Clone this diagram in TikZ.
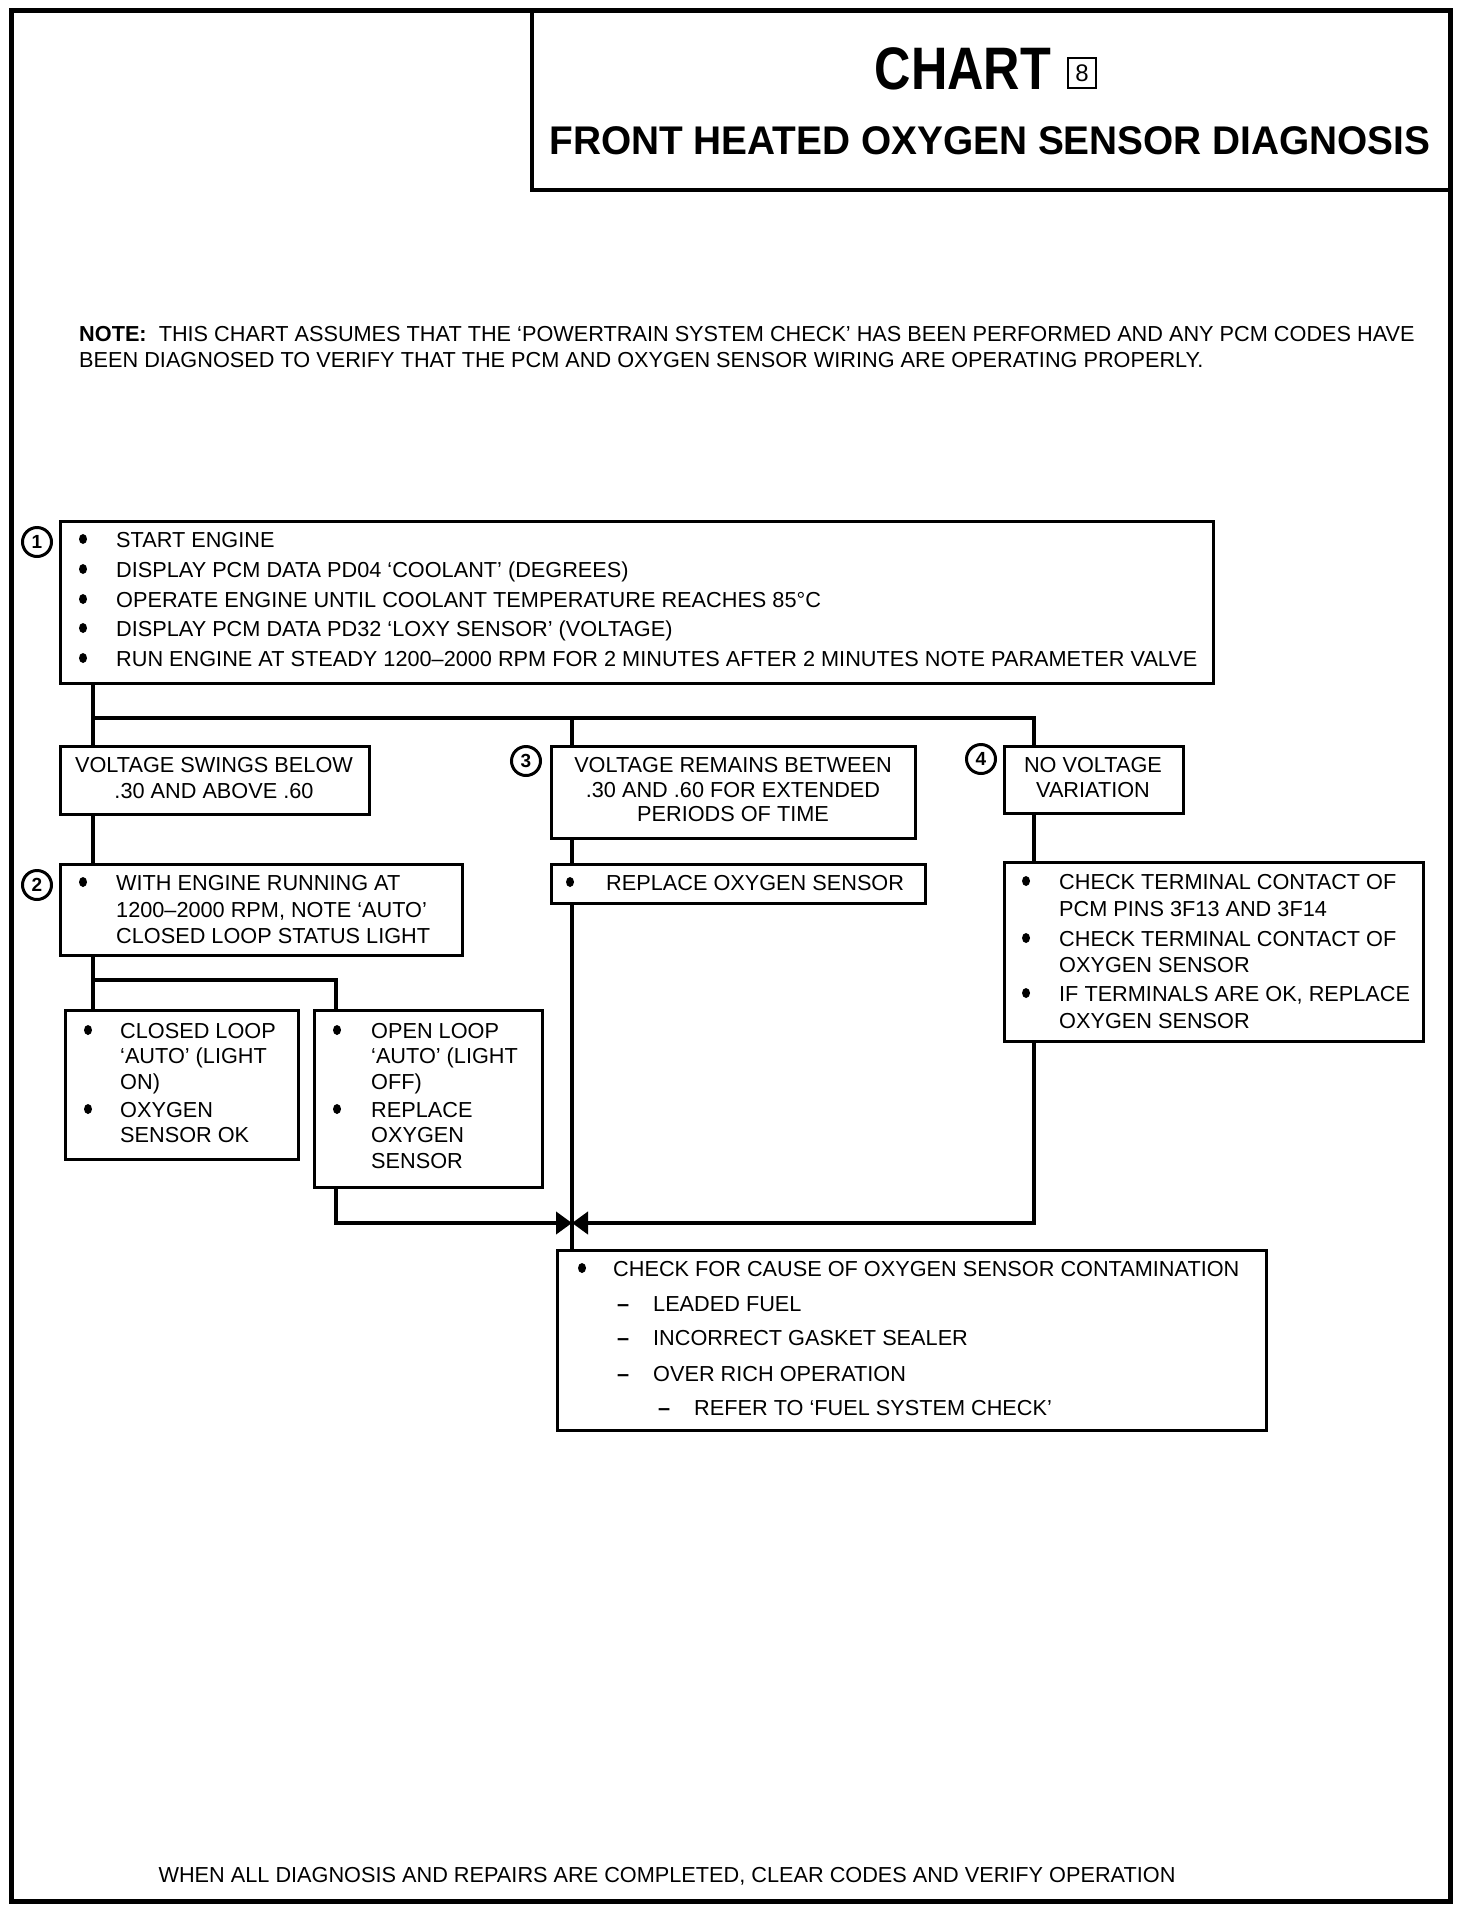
\documentclass[tikz,border=0pt]{standalone}
\usepackage{fontspec}
\setmainfont{Liberation Sans}
\newfontfamily\chartfont{Liberation Sans}[FakeStretch=0.84]
\newfontfamily\titlefont{Liberation Sans}[FakeStretch=0.97]
\usetikzlibrary{arrows.meta}
\begin{document}
\begin{tikzpicture}[x=1pt,y=-1pt,
  box/.style={draw, line width=3pt, anchor=north west, inner sep=0pt, outer sep=0pt},
  conn/.style={line width=4.5pt},
  txt/.style={font=\fontsize{21.7}{24}\selectfont, inner sep=0pt, anchor=base west},
  ctxt/.style={txt, anchor=base},
  dsh/.style={txt, font=\bfseries\fontsize{21.7}{24}\selectfont},
  num/.style={circle, draw, line width=3pt, minimum size=29pt, inner sep=0pt, font=\bfseries\fontsize{19}{19}\selectfont},
  arr/.style={-{Triangle[width=22pt,length=16pt]}},
  bul/.style={fill=black}]
\useasboundingbox (0,0) rectangle (1472,1914);
% frame and title
\draw[line width=5pt] (11,10) rectangle (1450,1901);
\node[box, line width=4pt, minimum width=918pt, minimum height=180pt] (title) at (532,10) {};
\node[inner sep=0pt, anchor=base, font=\chartfont\bfseries\fontsize{60}{60}\selectfont] (chart) at (963,89) {CHART};
\node[draw, line width=1.5pt, inner sep=0pt, minimum width=28pt, minimum height=30pt, font=\fontsize{24}{24}\selectfont] (eight) at (1082,73) {8};
\node[inner sep=0pt, anchor=base, font=\titlefont\bfseries\fontsize{40}{40}\selectfont] (ttl) at (990,154) {FRONT HEATED OXYGEN SENSOR DIAGNOSIS};
% note
\node[txt] (note1) at (79,341) {\textbf{NOTE:}\ \ THIS CHART ASSUMES THAT THE ‘POWERTRAIN SYSTEM CHECK’ HAS BEEN PERFORMED AND ANY PCM CODES HAVE};
\node[txt] (note2) at (79,367) {BEEN DIAGNOSED TO VERIFY THAT THE PCM AND OXYGEN SENSOR WIRING ARE OPERATING PROPERLY.};
% box 1
\node[box, minimum width=1153pt, minimum height=162pt] (b1) at (60,521) {};
\node[num] (c1) at (37,542) {1};
\foreach \yy/\tt in {547/START ENGINE, 577/DISPLAY PCM DATA PD04 ‘COOLANT’ (DEGREES), 607/OPERATE ENGINE UNTIL COOLANT TEMPERATURE REACHES 85°C, 636/DISPLAY PCM DATA PD32 ‘LOXY SENSOR’ (VOLTAGE), 666/RUN ENGINE AT STEADY 1200–2000 RPM FOR 2 MINUTES AFTER 2 MINUTES NOTE PARAMETER VALVE}{
  \fill[bul] (83,\yy-8) ellipse (4pt and 5pt);
  \node[txt] at (116,\yy) {\tt};
}
% voltage swings
\node[box, minimum width=309pt, minimum height=68pt] (vs) at (60,746) {};
\node[ctxt] (vs1) at (214,772) {VOLTAGE SWINGS BELOW};
\node[ctxt] (vs2) at (214,798) {.30 AND ABOVE .60};
% box 3
\node[box, minimum width=364pt, minimum height=92pt] (b3) at (551,746) {};
\node[num] (c3) at (526,761) {3};
\node[ctxt] (b3a) at (733,772) {VOLTAGE REMAINS BETWEEN};
\node[ctxt] (b3b) at (733,797) {.30 AND .60 FOR EXTENDED};
\node[ctxt] (b3c) at (733,821) {PERIODS OF TIME};
% box 4
\node[box, minimum width=179pt, minimum height=67pt] (b4) at (1004,746) {};
\node[num] (c4) at (981,759) {4};
\node[ctxt] (b4a) at (1093,772) {NO VOLTAGE};
\node[ctxt] (b4b) at (1093,797) {VARIATION};
% box 2
\node[box, minimum width=402pt, minimum height=91pt] (b2) at (60,864) {};
\node[num] (c2) at (37,885) {2};
\fill[bul] (83,882) ellipse (4pt and 5pt);
\node[txt] (b2a) at (116,890) {WITH ENGINE RUNNING AT};
\node[txt] (b2b) at (116,917) {1200–2000 RPM, NOTE ‘AUTO’};
\node[txt] (b2c) at (116,943) {CLOSED LOOP STATUS LIGHT};
% replace box
\node[box, minimum width=374pt, minimum height=39pt] (rep) at (551,864) {};
\fill[bul] (570,882) ellipse (4pt and 5pt);
\node[txt] (repa) at (606,890) {REPLACE OXYGEN SENSOR};
% check terminal box
\node[box, minimum width=419pt, minimum height=179pt] (ctc) at (1004,862) {};
\fill[bul] (1026,881) ellipse (4pt and 5pt);
\fill[bul] (1026,938) ellipse (4pt and 5pt);
\fill[bul] (1026,993) ellipse (4pt and 5pt);
\node[txt] (ctca) at (1059,889) {CHECK TERMINAL CONTACT OF};
\node[txt] (ctcb) at (1059,916) {PCM PINS 3F13 AND 3F14};
\node[txt] (ctcc) at (1059,946) {CHECK TERMINAL CONTACT OF};
\node[txt] (ctcd) at (1059,972) {OXYGEN SENSOR};
\node[txt] (ctce) at (1059,1001) {IF TERMINALS ARE OK, REPLACE};
\node[txt] (ctcf) at (1059,1028) {OXYGEN SENSOR};
% closed loop box
\node[box, minimum width=233pt, minimum height=149pt] (closed) at (65,1010) {};
\fill[bul] (88,1030) ellipse (4pt and 5pt);
\fill[bul] (88,1109) ellipse (4pt and 5pt);
\node[txt] (cla) at (120,1038) {CLOSED LOOP};
\node[txt] (clb) at (120,1063) {‘AUTO’ (LIGHT};
\node[txt] (clc) at (120,1089) {ON)};
\node[txt] (cld) at (120,1117) {OXYGEN};
\node[txt] (cle) at (120,1142) {SENSOR OK};
% open loop box
\node[box, minimum width=228pt, minimum height=177pt] (open) at (314,1010) {};
\fill[bul] (337,1030) ellipse (4pt and 5pt);
\fill[bul] (337,1109) ellipse (4pt and 5pt);
\node[txt] (opa) at (371,1038) {OPEN LOOP};
\node[txt] (opb) at (371,1063) {‘AUTO’ (LIGHT};
\node[txt] (opc) at (371,1089) {OFF)};
\node[txt] (opd) at (371,1117) {REPLACE};
\node[txt] (ope) at (371,1142) {OXYGEN};
\node[txt] (opf) at (371,1168) {SENSOR};
% final box
\node[box, minimum width=709pt, minimum height=180pt] (fin) at (557,1250) {};
\fill[bul] (582,1268) ellipse (4pt and 5pt);
\node[txt] (fa) at (613,1276) {CHECK FOR CAUSE OF OXYGEN SENSOR CONTAMINATION};
\node[dsh] (fb1) at (617,1311) {–};
\node[txt] (fb) at (653,1311) {LEADED FUEL};
\node[dsh] (fc1) at (617,1345) {–};
\node[txt] (fc) at (653,1345) {INCORRECT GASKET SEALER};
\node[dsh] (fd1) at (617,1381) {–};
\node[txt] (fd) at (653,1381) {OVER RICH OPERATION};
\node[dsh] (fe1) at (658,1415) {–};
\node[txt] (fe) at (694,1415) {REFER TO ‘FUEL SYSTEM CHECK’};
% footer
\node[ctxt] (foot) at (667,1882) {WHEN ALL DIAGNOSIS AND REPAIRS ARE COMPLETED, CLEAR CODES AND VERIFY OPERATION};
% connectors
\coordinate (busL) at (93,718);
\coordinate (bus2) at (93,980);
\coordinate (jn) at (572,1223);
\draw[conn] ([xshift=33pt]b1.south west) -- ([xshift=33pt]vs.north west);
\draw[conn] (busL) -| ([xshift=30pt]b4.north west);
\draw[conn] ([xshift=21pt]b3.north west) |- (busL);
\draw[conn] ([xshift=33pt]vs.south west) -- ([xshift=33pt]b2.north west);
\draw[conn] ([xshift=21pt]b3.south west) -- ([xshift=21pt]rep.north west);
\draw[conn] ([xshift=21pt]rep.south west) -- ([xshift=15pt]fin.north west);
\draw[conn] ([xshift=30pt]b4.south west) -- ([xshift=30pt]ctc.north west);
\draw[conn] ([xshift=33pt]b2.south west) -- ([xshift=28pt]closed.north west);
\draw[conn] (bus2) -| ([xshift=22pt]open.north west);
\draw[conn, arr] ([xshift=22pt]open.south west) |- (jn);
\draw[conn, arr] ([xshift=30pt]ctc.south west) |- (jn);
\end{tikzpicture}
\end{document}
